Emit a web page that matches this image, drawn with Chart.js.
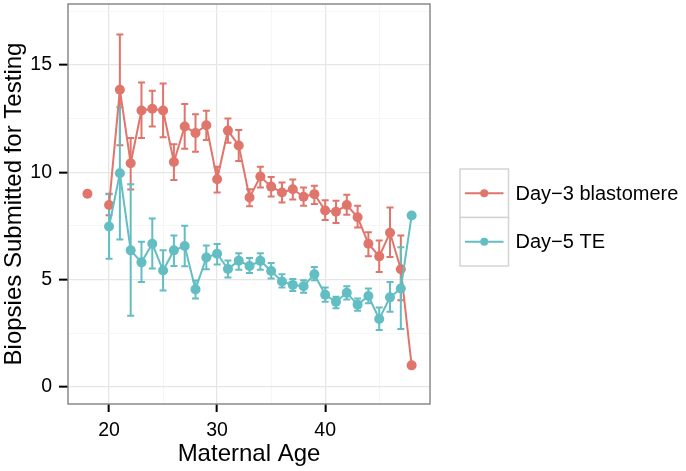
<!DOCTYPE html>
<html>
<head>
<meta charset="utf-8">
<script src="https://cdn.jsdelivr.net/npm/chart.js@4/dist/chart.umd.min.js"></script>
<style>
    html, body { margin: 0; padding: 0; background: #fff; }
</style>
</head>
<body>
<canvas id="chart-age" width="686" height="471"></canvas>
<script>
// maternal age (x)
const ages = [18, 19, 20, 21, 22, 23, 24, 25, 26, 27, 28, 29, 30, 31, 32, 33,
    34, 35, 36, 37, 38, 39, 40, 41, 42, 43, 44, 45, 46, 47, 48];

// Day-3 blastomere: mean and error bar low / high
const day3Mean = [9.0, null, 8.47, 13.84, 10.42, 12.88, 12.96, 12.88, 10.48, 12.13, 11.83, 12.19, 9.67, 11.94, 11.25, 8.82,
    9.8, 9.33, 9.06, 9.21, 8.86, 8.98, 8.22, 8.16, 8.47, 7.9, 6.67, 6.08, 7.18, 5.48, 1.0];
const day3Low = [null, null, 8.0, 11.26, 9.2, 11.6, 12.13, 11.63, 9.64, 11.1, 10.95, 11.5, 9.06, 11.37, 10.52, 8.41,
    9.29, 8.87, 8.59, 8.73, 8.44, 8.52, 7.78, 7.64, 8.02, 7.43, 6.08, 5.35, 6.05, 4.04, null];
const day3High = [null, null, 9.0, 16.42, 11.6, 14.18, 13.8, 14.13, 11.3, 13.18, 12.7, 12.87, 10.26, 12.51, 11.97, 9.21,
    10.26, 9.78, 9.52, 9.66, 9.29, 9.37, 8.7, 8.67, 8.95, 8.44, 7.2, 6.82, 8.36, 7.05, null];

// Day-5 TE: mean and error bar low / high
const day5Mean = [null, null, 7.47, 9.95, 6.36, 5.8, 6.67, 5.42, 6.36, 6.56, 4.54, 6.03, 6.2, 5.49, 5.88, 5.63,
    5.87, 5.4, 4.91, 4.75, 4.69, 5.25, 4.29, 3.96, 4.38, 3.83, 4.23, 3.16, 4.17, 4.58, 7.98];
const day5Low = [null, null, 5.97, 6.87, 3.31, 4.89, 5.51, 4.49, 5.63, 5.62, 4.12, 5.48, 5.7, 5.09, 5.46, 5.31,
    5.46, 5.05, 4.63, 4.47, 4.38, 4.97, 3.96, 3.66, 4.07, 3.55, 3.89, 2.65, 3.5, 2.69, null];
const day5High = [null, null, 8.97, 13.03, 9.44, 6.76, 7.85, 6.36, 7.05, 7.51, 4.95, 6.59, 6.66, 5.89, 6.23, 6.0,
    6.23, 5.77, 5.25, 5.03, 4.97, 5.58, 4.63, 4.2, 4.69, 4.12, 4.58, 3.7, 4.89, 6.51, null];

const xTicks = [20, 25, 30, 35, 40, 45];
const yTicks = [0, 2.5, 5, 7.5, 10, 12.5, 15, 17.5];

const seriesNames = ['Day\u22123 blastomere', 'Day\u22125 TE'];
const colorRed = '#E0756B';
const colorTeal = '#62BEC3';
const fontFamily = '"Liberation Sans", Arial, Helvetica, sans-serif';

function toPoints(values) {
    return ages.map((a, i) => ({ x: a, y: values[i] }));
}

// error bars, drawn through the chart scales
const errorBarPlugin = {
    id: 'errorBars',
    beforeDatasetsDraw(chart) {
        const ctx = chart.ctx;
        const xs = chart.scales.x;
        const ys = chart.scales.y;
        const area = chart.chartArea;
        ctx.save();
        ctx.beginPath();
        ctx.rect(area.left, area.top, area.right - area.left, area.bottom - area.top);
        ctx.clip();
        chart.data.datasets.forEach(ds => {
            ctx.strokeStyle = ds.borderColor;
            ctx.lineWidth = 2;
            ds.errLow.forEach((lo, i) => {
                const hi = ds.errHigh[i];
                if (lo === null || hi === null) return;
                const px = xs.getPixelForValue(ages[i]);
                const pLo = ys.getPixelForValue(lo);
                const pHi = ys.getPixelForValue(hi);
                ctx.beginPath();
                ctx.moveTo(px, pLo);
                ctx.lineTo(px, pHi);
                ctx.moveTo(px - 3.5, pLo);
                ctx.lineTo(px + 3.5, pLo);
                ctx.moveTo(px - 3.5, pHi);
                ctx.lineTo(px + 3.5, pHi);
                ctx.stroke();
            });
        });
        ctx.restore();
    }
};

// panel border and legend at the right
const panelPlugin = {
    id: 'panelAndLegend',
    afterDraw(chart) {
        const ctx = chart.ctx;
        const area = chart.chartArea;
        ctx.save();
        ctx.strokeStyle = '#8a8a8a';
        ctx.lineWidth = 1.5;
        ctx.strokeRect(area.left, area.top, area.right - area.left, area.bottom - area.top);

        // legend
        const keyX = area.right + 30;
        const keyY = 169;
        const keySize = 48.5;
        chart.data.datasets.forEach((ds, i) => {
            const top = keyY + i * keySize;
            ctx.fillStyle = '#ffffff';
            ctx.fillRect(keyX, top, keySize, keySize);
            ctx.strokeStyle = '#d4d4d4';
            ctx.lineWidth = 1.5;
            ctx.strokeRect(keyX, top, keySize, keySize);
            const cy = top + keySize / 2;
            ctx.strokeStyle = ds.borderColor;
            ctx.lineWidth = 2;
            ctx.beginPath();
            ctx.moveTo(keyX + 5, cy);
            ctx.lineTo(keyX + keySize - 5, cy);
            ctx.stroke();
            ctx.fillStyle = ds.borderColor;
            ctx.beginPath();
            ctx.arc(keyX + keySize / 2, cy, 4, 0, Math.PI * 2);
            ctx.fill();
            ctx.fillStyle = '#000000';
            ctx.font = `20px ${fontFamily}`;
            ctx.textBaseline = 'middle';
            ctx.textAlign = 'left';
            ctx.fillText(ds.label, keyX + keySize + 7, cy + 1);
        });
        ctx.restore();
    }
};

function createAgeChart(idChart) {
    const ctx = document.getElementById(idChart).getContext('2d');
    const myChart = new Chart(ctx, {
        type: 'line',
        data: {
            datasets: [{
                label: seriesNames[0],
                data: toPoints(day3Mean),
                errLow: day3Low,
                errHigh: day3High,
                borderColor: colorRed,
                backgroundColor: colorRed,
                borderWidth: 2,
                pointRadius: 5,
                pointBorderWidth: 0,
                spanGaps: false,
                order: 1,
            },
            {
                label: seriesNames[1],
                data: toPoints(day5Mean),
                errLow: day5Low,
                errHigh: day5High,
                borderColor: colorTeal,
                backgroundColor: colorTeal,
                borderWidth: 2,
                pointRadius: 5,
                pointBorderWidth: 0,
                spanGaps: false,
                order: 0,
            }]
        },
        options: {
            responsive: false,
            animation: false,
            layout: {
                autoPadding: false,
                padding: { top: 4, right: 256, left: 0, bottom: 0 }
            },
            plugins: {
                legend: { display: false },
                tooltip: { enabled: false },
            },
            scales: {
                x: {
                    type: 'linear',
                    min: 16.2,
                    max: 49.7,
                    afterBuildTicks: axis => { axis.ticks = xTicks.map(v => ({ value: v })); },
                    afterFit: axis => {
                        axis.height = 67;
                        axis.paddingLeft = 0;
                        axis.paddingRight = 0;
                    },
                    border: { display: false },
                    grid: {
                        color: c => (c.tick && c.tick.value % 10 === 0) ? '#e6e6e6' : '#f6f6f6',
                        lineWidth: c => (c.tick && c.tick.value % 10 === 0) ? 1.3 : 1,
                        tickColor: c => (c.tick && c.tick.value % 10 === 0) ? '#000000' : 'rgba(0,0,0,0)',
                        tickLength: 8,
                        tickWidth: 2,
                    },
                    ticks: {
                        autoSkip: false,
                        maxRotation: 0,
                        padding: 7,
                        color: '#000000',
                        font: { family: fontFamily, size: 19.5 },
                        callback: v => (v % 10 === 0 ? String(v) : ''),
                    },
                    title: {
                        display: true,
                        text: 'Maternal Age',
                        color: '#000000',
                        font: { family: fontFamily, size: 24 },
                        padding: { top: 0, bottom: 2 },
                    }
                },
                y: {
                    type: 'linear',
                    min: -0.8,
                    max: 17.84,
                    afterBuildTicks: axis => { axis.ticks = yTicks.map(v => ({ value: v })); },
                    afterFit: axis => {
                        axis.width = 68;
                        axis.paddingTop = 0;
                        axis.paddingBottom = 0;
                    },
                    border: { display: false },
                    grid: {
                        color: c => (c.tick && c.tick.value % 5 === 0) ? '#e6e6e6' : '#f6f6f6',
                        lineWidth: c => (c.tick && c.tick.value % 5 === 0) ? 1.3 : 1,
                        tickColor: c => (c.tick && c.tick.value % 5 === 0) ? '#000000' : 'rgba(0,0,0,0)',
                        tickLength: 9,
                        tickWidth: 2,
                    },
                    ticks: {
                        autoSkip: false,
                        padding: 7,
                        color: '#000000',
                        font: { family: fontFamily, size: 19.5 },
                        callback: v => (v % 5 === 0 ? String(v) : ''),
                    },
                    title: {
                        display: true,
                        text: 'Biopsies Submitted for Testing',
                        color: '#000000',
                        font: { family: fontFamily, size: 24 },
                        padding: { top: 0, bottom: 0 },
                    }
                }
            }
        },
        plugins: [errorBarPlugin, panelPlugin]
    });
    return myChart;
}

createAgeChart('chart-age');
</script>
</body>
</html>
